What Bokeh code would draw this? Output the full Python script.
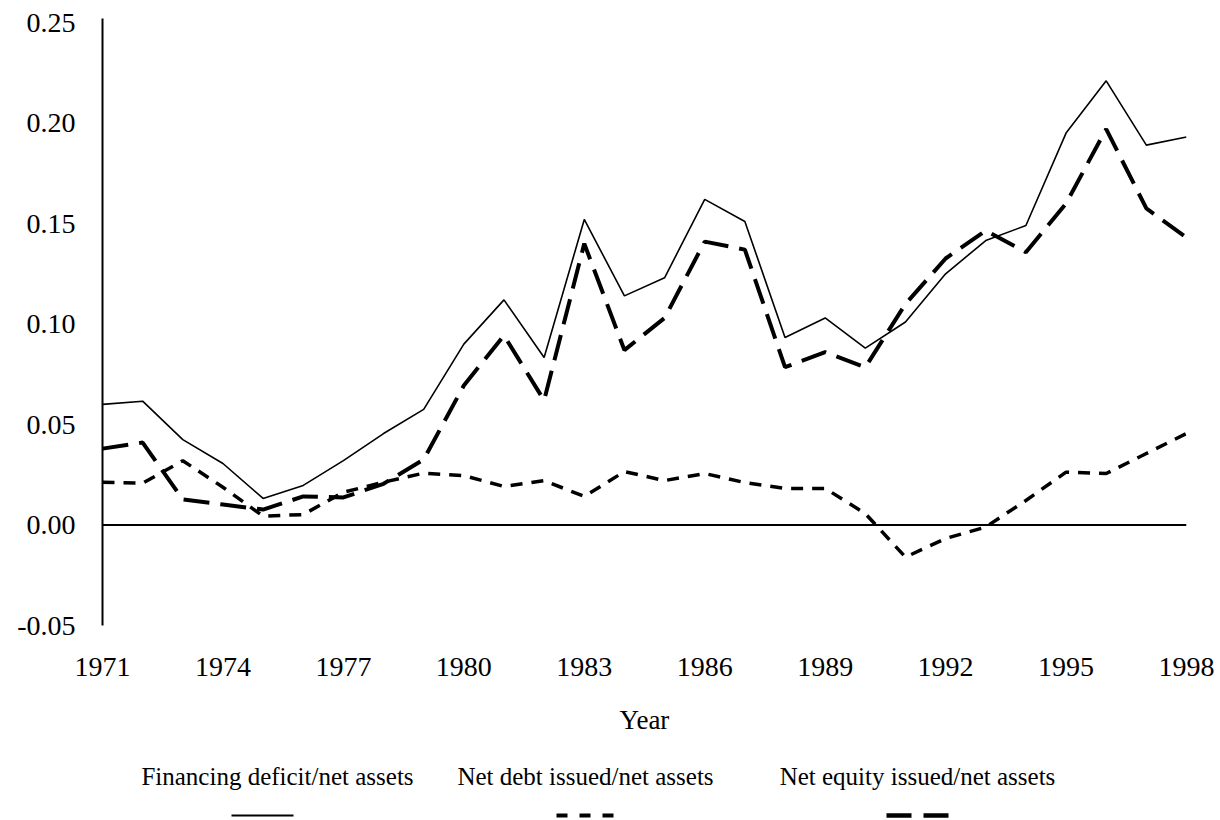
from bokeh.plotting import figure
from bokeh.layouts import column
from bokeh.models import Range1d, FixedTicker, Span, ColumnDataSource
from bokeh.embed import file_html
from bokeh.resources import INLINE
from bokeh.core.properties import value

years = list(range(1971, 1999))
financing_deficit = [0.060, 0.0616, 0.0425, 0.0306, 0.0132, 0.0197, 0.032, 0.0455, 0.0575, 0.090,
                     0.112, 0.0833, 0.152, 0.114, 0.123, 0.162, 0.151, 0.0933, 0.103, 0.088,
                     0.101, 0.125, 0.1415, 0.149, 0.195, 0.221, 0.189, 0.193]
net_debt = [0.0213, 0.0208, 0.032, 0.0188, 0.0044, 0.0052, 0.0163, 0.0213, 0.0258, 0.0246,
            0.0192, 0.0221, 0.0142, 0.0266, 0.0221, 0.0256, 0.0211, 0.0182, 0.0182, 0.0057,
            -0.016, -0.0067, -0.001, 0.0122, 0.0263, 0.0256, 0.0356, 0.0455]
net_equity = [0.038, 0.041, 0.0127, 0.0102, 0.0077, 0.0142, 0.0137, 0.0205, 0.0326, 0.0694,
              0.0943, 0.062, 0.140, 0.087, 0.103, 0.141, 0.137, 0.0785, 0.086, 0.0785,
              0.110, 0.1326, 0.1465, 0.1357, 0.160, 0.197, 0.1575, 0.143]

x_ticks = [1971, 1974, 1977, 1980, 1983, 1986, 1989, 1992, 1995, 1998]
y_ticks = [-0.05, 0.0, 0.05, 0.10, 0.15, 0.20, 0.25]
y_tick_labels = ["-0.05", "0.00", "0.05", "0.10", "0.15", "0.20", "0.25"]
series_names = ["Financing deficit/net assets", "Net debt issued/net assets", "Net equity issued/net assets"]
x_label = "Year"

FONT = "'Liberation Serif', 'Times New Roman', serif"

p = figure(width=1220, height=745, output_backend="svg", toolbar_location=None,
           x_range=Range1d(1971, 1998), y_range=Range1d(-0.05, 0.252),
           min_border_left=102, min_border_right=34, min_border_top=18, min_border_bottom=120)
p.outline_line_color = None
p.xgrid.grid_line_color = None
p.ygrid.grid_line_color = None
p.background_fill_color = "white"
p.border_fill_color = "white"

src = ColumnDataSource(dict(year=years, fd=financing_deficit, debt=net_debt, eq=net_equity))
p.line("year", "fd", source=src, line_color="black", line_width=1.6)
p.line("year", "debt", source=src, line_color="black", line_width=3.5, line_dash="12 9")
p.line("year", "eq", source=src, line_color="black", line_width=4, line_dash="26 11")

p.add_layout(Span(location=0, dimension="width", line_color="black", line_width=2))

# x axis
xa = p.xaxis[0]
xa.ticker = FixedTicker(ticks=x_ticks)
xa.axis_line_color = None
xa.major_tick_line_color = None
xa.minor_tick_line_color = None
xa.major_tick_out = 0
xa.major_label_standoff = 32
xa.major_label_text_font = FONT
xa.major_label_text_font_size = "28px"
xa.major_label_text_color = "black"
xa.axis_label = x_label
xa.axis_label_text_font = FONT
xa.axis_label_text_font_size = "27px"
xa.axis_label_text_font_style = "normal"
xa.axis_label_text_color = "black"
xa.axis_label_standoff = 26

ya = p.yaxis[0]
ya.ticker = FixedTicker(ticks=y_ticks)
ya.major_label_overrides = {t: s for t, s in zip(y_ticks, y_tick_labels)}
ya.axis_line_color = "black"
ya.axis_line_width = 2
ya.major_tick_line_color = None
ya.minor_tick_line_color = None
ya.major_tick_out = 0
ya.major_label_standoff = 27
ya.major_label_text_font = FONT
ya.major_label_text_font_size = "28px"
ya.major_label_text_color = "black"

# legend panel (frame aligned with main plot; data coords = page pixels)
lg = figure(width=1220, height=75, output_backend="svg", toolbar_location=None,
            x_range=Range1d(102, 1186), y_range=Range1d(820, 745),
            min_border_left=102, min_border_right=34, min_border_top=0, min_border_bottom=0)
lg.axis.visible = False
lg.grid.visible = False
lg.outline_line_color = None
lg.border_fill_color = "white"

text_x = [277, 585, 917]
sample_x0 = [231, 556, 886]
sample_x1 = [293, 616, 948]
styles = [dict(line_width=2, line_dash="solid"),
          dict(line_width=4, line_dash="11 12"),
          dict(line_width=4.5, line_dash="25 12")]
lg.text(x=text_x, y=[776] * 3, text=series_names, text_font=value(FONT), text_font_size="25px",
        text_align="center", text_baseline="middle", text_color="black")
for x0, x1, st in zip(sample_x0, sample_x1, styles):
    lg.line([x0, x1], [815, 815], line_color="black", **st)

layout = column(p, lg, spacing=0)
html = file_html(layout, INLINE)
html = html.replace("<head>", "<head><style>html,body{overflow:hidden;}</style>", 1)
open("out.html", "w").write(html)
